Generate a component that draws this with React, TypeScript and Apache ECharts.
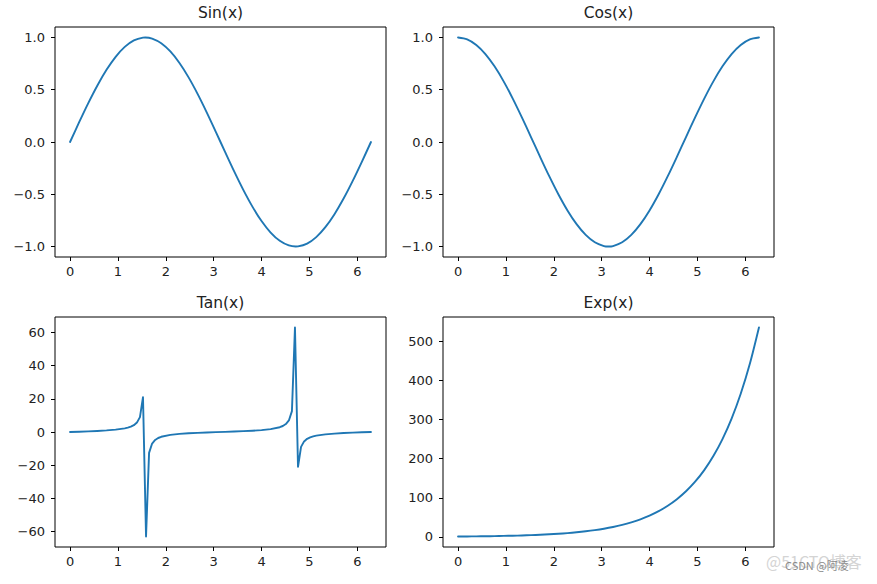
import React, { useEffect, useRef } from "react";
import * as echarts from "echarts";

// Sample positions (x)
const xs = [0, 0.1904, 0.3808, 0.5712, 0.7616, 0.952, 1.1424, 1.3328, 1.5232, 1.7136, 1.904, 2.0944, 2.2848, 2.4752, 2.6656, 2.856, 3.0464, 3.2368, 3.4272, 3.6176, 3.808, 3.9984, 4.1888, 4.3792, 4.5696, 4.76, 4.9504, 5.1408, 5.3312, 5.5216, 5.712, 5.9024, 6.0928, 6.2832];

const sinX = [0, 0.1904, 0.3808, 0.5712, 0.7616, 0.952, 1.1424, 1.3328, 1.5232, 1.5708, 1.7136, 1.904, 2.0944, 2.2848, 2.4752, 2.6656, 2.856, 3.0464, 3.2368, 3.4272, 3.6176, 3.808, 3.9984, 4.1888, 4.3792, 4.5696, 4.7124, 4.76, 4.9504, 5.1408, 5.3312, 5.5216, 5.712, 5.9024, 6.0928, 6.2832];
const sinY = [0, 0.1893, 0.3717, 0.5406, 0.6901, 0.8146, 0.9096, 0.9718, 0.9989, 1.0, 0.9898, 0.945, 0.866, 0.7557, 0.6182, 0.4582, 0.2817, 0.0951, -0.0951, -0.2817, -0.4582, -0.6182, -0.7557, -0.866, -0.945, -0.9898, -1.0, -0.9989, -0.9718, -0.9096, -0.8146, -0.6901, -0.5406, -0.3717, -0.1893, 0];

const cosX = [0, 0.1904, 0.3808, 0.5712, 0.7616, 0.952, 1.1424, 1.3328, 1.5232, 1.7136, 1.904, 2.0944, 2.2848, 2.4752, 2.6656, 2.856, 3.0464, 3.1416, 3.2368, 3.4272, 3.6176, 3.808, 3.9984, 4.1888, 4.3792, 4.5696, 4.76, 4.9504, 5.1408, 5.3312, 5.5216, 5.712, 5.9024, 6.0928, 6.2832];
const cosY = [1, 0.9819, 0.9284, 0.8413, 0.7237, 0.5801, 0.4154, 0.2357, 0.0476, -0.1423, -0.3271, -0.5, -0.6549, -0.7861, -0.8888, -0.9595, -0.9955, -1.0, -0.9955, -0.9595, -0.8888, -0.7861, -0.6549, -0.5, -0.3271, -0.1423, 0.0476, 0.2357, 0.4154, 0.5801, 0.7237, 0.8413, 0.9284, 0.9819, 1];

const expY = [1, 1.21, 1.46, 1.77, 2.14, 2.59, 3.13, 3.79, 4.59, 5.55, 6.71, 8.12, 9.82, 11.88, 14.38, 17.39, 21.04, 25.45, 30.79, 37.25, 45.06, 54.51, 65.94, 79.77, 96.5, 116.74, 141.22, 170.84, 206.67, 250.02, 302.46, 365.89, 442.63, 535.49];

const tanX = [0, 0.1904, 0.3808, 0.5712, 0.7616, 0.952, 1.1424, 1.2059, 1.2693, 1.3328, 1.3963, 1.4597, 1.5232, 1.5867, 1.6501, 1.7136, 1.7771, 1.8405, 1.904, 2.0944, 2.2848, 2.4752, 2.6656, 2.856, 3.0464, 3.2368, 3.4272, 3.6176, 3.808, 3.9984, 4.1888, 4.3792, 4.4427, 4.5061, 4.5696, 4.6331, 4.6965, 4.76, 4.8235, 4.8869, 4.9504, 5.0139, 5.0773, 5.1408, 5.3312, 5.5216, 5.712, 5.9024, 6.0928, 6.2832];
const tanY = [0, 0.1927, 0.4004, 0.6426, 0.9536, 1.4042, 2.1897, 2.618, 3.216, 4.123, 5.671, 8.967, 20.99, -63.02, -12.58, -6.955, -4.779, -3.617, -2.889, -1.7321, -1.1539, -0.7864, -0.5155, -0.2936, -0.0955, 0.0955, 0.2936, 0.5155, 0.7864, 1.1539, 1.7321, 2.889, 3.617, 4.779, 6.955, 12.58, 63.02, -20.99, -8.967, -5.671, -4.123, -3.216, -2.618, -2.1897, -1.4042, -0.9536, -0.6426, -0.4004, -0.1927, 0];

const titles = ["Sin(x)", "Cos(x)", "Tan(x)", "Exp(x)"];
const xTicks = [0, 1, 2, 3, 4, 5, 6];
const trigTicks = [-1.0, -0.5, 0.0, 0.5, 1.0];
const tanTicks = [-60, -40, -20, 0, 20, 40, 60];
const expTicks = [0, 100, 200, 300, 400, 500];

const xRange = [-0.31416, 6.59734];
const yRanges = [
  [-1.1, 1.1],
  [-1.1, 1.1],
  [-69.3, 69.3],
  [-25.72, 562.21],
];

const zip = (a: number[], b: number[]) => a.map((v, i) => [v, b[i]]);

const FONT = "DejaVu Sans";
const TEXT = "#222222";

export default function App() {
  const ref = useRef<HTMLDivElement>(null);
  useEffect(() => {
    if (!ref.current) return;
    const chart = echarts.init(ref.current, undefined, { renderer: "svg" });

    const lefts = [55, 443, 55, 443];
    const tops = [27, 27, 317, 317];
    const W = 331;
    const H = 230;

    const fmtMinus = (s: string) => s.replace("-", "\u2212");
    const yFormatters = [
      (v: number) => fmtMinus(v.toFixed(1)),
      (v: number) => fmtMinus(v.toFixed(1)),
      (v: number) => fmtMinus(String(Math.round(v))),
      (v: number) => fmtMinus(String(Math.round(v))),
    ];
    const yTickSets = [trigTicks, trigTicks, tanTicks, expTicks];
    const dataSets = [zip(sinX, sinY), zip(cosX, cosY), zip(tanX, tanY), zip(xs, expY)];
    const smoothing = [0.3, 0.3, false, 0.3];

    const grid = lefts.map((l, i) => ({
      left: l,
      top: tops[i],
      width: W,
      height: H,
      show: true,
      borderColor: "#000",
      borderWidth: 1,
      backgroundColor: "#fff",
      containLabel: false,
    }));

    const xAxis = lefts.map((_, i) => ({
      type: "value",
      gridIndex: i,
      min: xRange[0],
      max: xRange[1],
      axisLine: { show: false, onZero: false },
      splitLine: { show: false },
      axisTick: {
        show: true,
        length: 4,
        customValues: xTicks,
        lineStyle: { color: "#000", width: 1 },
      },
      axisLabel: {
        show: true,
        customValues: xTicks,
        margin: 8,
        fontFamily: FONT,
        fontSize: 13,
        color: TEXT,
        formatter: (v: number) => String(Math.round(v)),
      },
    }));

    const yAxis = lefts.map((_, i) => ({
      type: "value",
      gridIndex: i,
      min: yRanges[i][0],
      max: yRanges[i][1],
      axisLine: { show: false, onZero: false },
      splitLine: { show: false },
      axisTick: {
        show: true,
        length: 4,
        customValues: yTickSets[i],
        lineStyle: { color: "#000", width: 1 },
      },
      axisLabel: {
        show: true,
        customValues: yTickSets[i],
        margin: 10,
        fontFamily: FONT,
        fontSize: 13,
        color: TEXT,
        formatter: yFormatters[i],
      },
    }));

    const series = dataSets.map((d, i) => ({
      type: "line",
      xAxisIndex: i,
      yAxisIndex: i,
      data: d,
      showSymbol: false,
      symbol: "none",
      smooth: smoothing[i],
      lineStyle: { color: "#1f77b4", width: 1.9, join: "round", cap: "round" },
      z: 3,
    }));

    const title = titles.map((t, i) => ({
      text: t,
      left: lefts[i] + W / 2,
      top: tops[i] - 22,
      textAlign: "center",
      padding: 0,
      textStyle: {
        fontFamily: FONT,
        fontSize: 15.5,
        fontWeight: "normal",
        color: TEXT,
      },
    }));

    chart.setOption({
      animation: false,
      backgroundColor: "#fff",
      title,
      grid,
      xAxis,
      yAxis,
      series,
      graphic: [
        {
          type: "text",
          left: 766,
          top: 553,
          style: {
            text: "@51CTO博客",
            font: "16px 'Noto Sans CJK SC'",
            fill: "#d4d4d4",
          },
          z: 10,
        },
        {
          type: "text",
          left: 785,
          top: 559,
          style: {
            text: "CSDN @阿凌",
            font: "11px 'Noto Sans CJK SC'",
            fill: "#8a8a8a",
          },
          z: 11,
        },
      ],
    });

    return () => chart.dispose();
  }, []);

  return (
    <div
      ref={ref}
      style={{ position: "fixed", left: 0, top: 0, width: 877, height: 584 }}
    />
  );
}
